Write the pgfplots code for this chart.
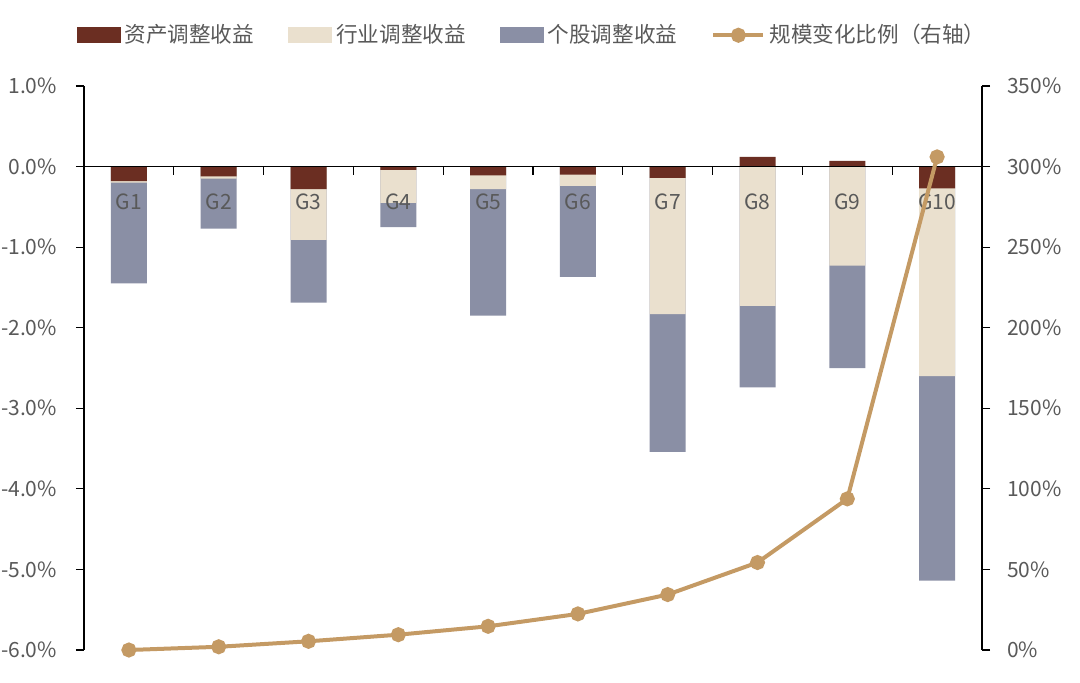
\documentclass[border=0pt]{standalone}
\usepackage{pgfplots}
\pgfplotsset{compat=1.18}
\usepackage{pgfplotstable}
\usepackage{fontspec}
\setmainfont{Noto Sans CJK SC}

\definecolor{assetc}{HTML}{6B2E22}
\definecolor{indc}{HTML}{EAE0CE}
\definecolor{stockc}{HTML}{8A8FA5}
\definecolor{linec}{HTML}{C49A64}
\definecolor{txtc}{HTML}{595959}

% components of each group, in percent; scale in percent (right axis)
\pgfplotstableread{
g  asset  ind    stock  scale
1  -0.18  -0.02  -1.25  0
2  -0.12  -0.03  -0.62  2.0
3  -0.28  -0.63  -0.78  5.4
4  -0.04  -0.41  -0.30  9.5
5  -0.11  -0.17  -1.57  14.7
6  -0.10  -0.14  -1.13  22.4
7  -0.14  -1.69  -1.71  34.4
8   0.12  -1.73  -1.01  54.3
9   0.07  -1.23  -1.27  93.8
10 -0.27  -2.33  -2.54  306
}\groups

\pgfplotsset{
  common/.style={
    width=449pt, height=282pt, scale only axis,
    xmin=0.5, xmax=10.5, clip=false,
    tick style={black, line width=0.6pt},
    major tick length=4pt, minor tick length=4pt,
    tick label style={font=\fontsize{10.5}{12}\selectfont, text=txtc},
  },
  boxleg/.style={legend image code/.code={\fill[##1] (0pt,-4pt) rectangle (22pt,4pt);}},
  lineleg/.style={legend image code/.code={%
    \draw[##1, mark=none] (0pt,0pt) -- (25pt,0pt);
    \fill[linec] (12.5pt,0pt) circle (2.75pt);}},
}

\begin{document}
\begin{tikzpicture}
\useasboundingbox (-42pt,-16pt) rectangle (498pt,325pt);
\begin{axis}[
  common,
  ymin=-6, ymax=1,
  axis x line=middle, axis y line=left,
  axis line style={-, black, line width=0.6pt},
  axis on top,
  xtick align=center, ytick align=outside,
  xtick={1,...,10},
  xticklabels={G1,G2,G3,G4,G5,G6,G7,G8,G9,G10},
  major x tick style={draw=none},
  minor xtick={1.5,2.5,...,9.5},
  minor x tick style={black, line width=0.6pt, yshift=-2pt},
  xticklabel style={yshift=-8pt},
  ytick={-6,...,1},
  yticklabels={-6.0\%,-5.0\%,-4.0\%,-3.0\%,-2.0\%,-1.0\%,0.0\%,1.0\%},
  yticklabel style={xshift=-6pt},
]
\addplot[ybar, bar width=18pt, bar shift=0pt, fill=stockc, draw=none]
  table[x=g, y expr={min(\thisrow{asset},0)+\thisrow{ind}+\thisrow{stock}}] {\groups};
\addplot[ybar, bar width=18pt, bar shift=0pt, fill=indc, draw=none]
  table[x=g, y expr={min(\thisrow{asset},0)+\thisrow{ind}}] {\groups};
\addplot[ybar, bar width=18pt, bar shift=0pt, fill=assetc, draw=none]
  table[x=g, y=asset] {\groups};
\end{axis}

\begin{axis}[
  common,
  ymin=0, ymax=350,
  axis x line=none, axis y line*=right,
  axis line style={-, black, line width=0.6pt},
  tick align=outside,
  ytick={0,50,...,350},
  yticklabels={0\%,50\%,100\%,150\%,200\%,250\%,300\%,350\%},
  yticklabel style={xshift=5pt},
  legend columns=4,
  legend style={draw=none, fill=none, at={(0.5,1.09)}, anchor=center,
    font=\fontsize{10.8}{12}\selectfont, text=txtc,
    /tikz/every even column/.append style={column sep=15pt}},
]
\addlegendimage{boxleg, fill=assetc, draw=none}
\addlegendentry{资产调整收益}
\addlegendimage{boxleg, fill=indc, draw=none}
\addlegendentry{行业调整收益}
\addlegendimage{boxleg, fill=stockc, draw=none}
\addlegendentry{个股调整收益}
\addplot[color=linec, line width=2pt, mark=*, mark size=2.75pt,
  mark options={fill=linec, draw=linec}, lineleg]
  table[x=g, y=scale] {\groups};
\addlegendentry{规模变化比例（右轴）}
\end{axis}
\end{tikzpicture}
\end{document}
